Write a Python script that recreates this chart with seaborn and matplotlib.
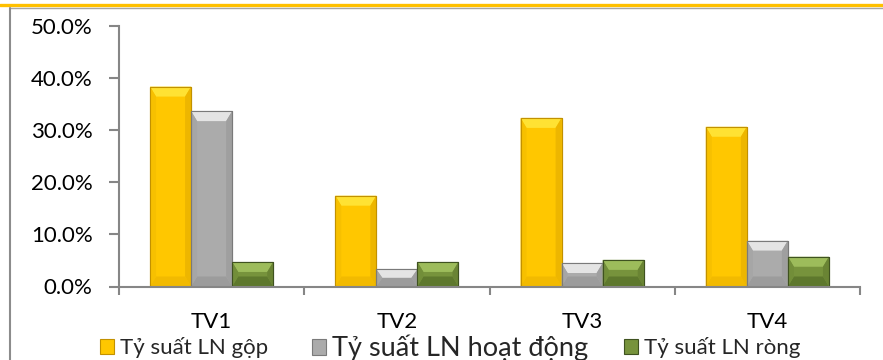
import numpy as np
import pandas as pd
import matplotlib
matplotlib.use("Agg")
import matplotlib.pyplot as plt
import seaborn as sns
from matplotlib.patches import Polygon, Patch, Rectangle
from matplotlib.lines import Line2D
from matplotlib.ticker import PercentFormatter, FixedLocator

# Data (percent)
categories = ["TV1", "TV2", "TV3", "TV4"]
series = ["Tỷ suất LN gộp", "Tỷ suất LN hoạt động", "Tỷ suất LN ròng"]
gross_margin = [38.3, 17.4, 32.3, 30.6]
operating_margin = [33.6, 3.3, 4.5, 8.8]
net_margin = [4.7, 4.7, 5.1, 5.7]
y_ticks = [0, 10, 20, 30, 40, 50]

sns.set_theme(style="white")
plt.rcParams["font.family"] = ["Lato", "DejaVu Sans"]

df = pd.DataFrame({
    "cat": categories * 3,
    "series": np.repeat(series, len(categories)),
    "value": gross_margin + operating_margin + net_margin,
})

# face, top bevel, left, right, bottom, edge
styles = {
    series[0]: dict(face="#FFC700", top="#FFE233", left="#F7C000", right="#EDB600", bottom="#F2BA00", edge="#C29100"),
    series[1]: dict(face="#ABABAB", top="#E4E4E4", left="#A6A6A6", right="#9F9F9F", bottom="#9C9C9C", edge="#7A7A7A"),
    series[2]: dict(face="#77933C", top="#9DBC5B", left="#728E39", right="#6A8434", bottom="#5E782D", edge="#3F5220"),
}

W, H = 883, 360
fig = plt.figure(figsize=(W / 100, H / 100), dpi=100)
ax_l, ax_r, ax_b, ax_t = 119, 860, 286.5, 25.5
ax = fig.add_axes([ax_l / W, (H - ax_b) / H, (ax_r - ax_l) / W, (ax_b - ax_t) / H])

sns.barplot(
    data=df, x="cat", y="value", hue="series", order=categories, hue_order=series,
    palette={k: v["face"] for k, v in styles.items()}, saturation=1,
    width=0.665, gap=0, legend=False, ax=ax, errorbar=None,
)
ax.set_xlim(-0.5, len(categories) - 0.5)
ax.set_ylim(0, 50)

# bevel shading on each bar
px_x = len(categories) / (ax_r - ax_l)
px_y = 50 / (ax_b - ax_t)
face_lookup = {matplotlib.colors.to_hex(v["face"]): v for v in styles.values()}
for p in list(ax.patches):
    st = face_lookup.get(matplotlib.colors.to_hex(p.get_facecolor()))
    if st is None:
        continue
    p.set_edgecolor(st["edge"])
    p.set_linewidth(0.8)
    x0, w, h = p.get_x(), p.get_width(), p.get_height()
    dpx = min(10, (h / px_y) / 2)
    spx = min(6, (w / px_x) / 2)
    dx, dy = spx * px_x, dpx * px_y
    polys = [
        ([(x0, h), (x0 + w, h), (x0 + w - dx, h - dy), (x0 + dx, h - dy)], st["top"]),
        ([(x0, 0), (x0 + w, 0), (x0 + w - dx, dy), (x0 + dx, dy)], st["bottom"]),
        ([(x0, 0), (x0, h), (x0 + dx, h - dy), (x0 + dx, dy)], st["left"]),
        ([(x0 + w, 0), (x0 + w, h), (x0 + w - dx, h - dy), (x0 + w - dx, dy)], st["right"]),
    ]
    for pts, col in polys:
        ax.add_patch(Polygon(pts, closed=True, facecolor=col, edgecolor="none", zorder=p.get_zorder() + 0.1))
    ax.add_patch(Rectangle((x0, 0), w, h, fill=False, edgecolor=st["edge"],
                           linewidth=0.8, zorder=p.get_zorder() + 0.2))

# axes styling
axis_col = "#868686"
for s in ["top", "right"]:
    ax.spines[s].set_visible(False)
for s in ["left", "bottom"]:
    ax.spines[s].set_color(axis_col)
    ax.spines[s].set_linewidth(1.5)
ax.set_xlabel("")
ax.set_ylabel("")
ax.yaxis.set_major_locator(FixedLocator(y_ticks))
ax.yaxis.set_major_formatter(PercentFormatter(xmax=100, decimals=1))
ax.tick_params(axis="y", left=True, direction="out", length=7, width=1.5, color=axis_col,
               pad=12, labelsize=16, labelcolor="black")
ax.set_xticks(range(len(categories)))
ax.set_xticklabels(categories)
ax.set_xticks(np.arange(-0.5, len(categories), 1.0), minor=True)
ax.tick_params(axis="x", which="major", length=0, pad=18, labelsize=16, labelcolor="black")
ax.tick_params(axis="x", which="minor", bottom=True, direction="out", length=6, width=1.5, color=axis_col)

# legend: one entry per series, each placed on its own
legend_x = [100, 312, 624]
legend_size = [16, 19.5, 16]
for name, lx, fs in zip(series, legend_x, legend_size):
    px = fs * 100 / 72
    fig.legend([Patch(facecolor=styles[name]["face"], edgecolor=styles[name]["edge"], linewidth=0.8)],
               [name], loc="center left", bbox_to_anchor=(lx / W, 12 / H),
               bbox_transform=fig.transFigure, frameon=False, fontsize=fs,
               handlelength=14 / px, handleheight=14 / px, handletextpad=6 / px,
               borderpad=0, borderaxespad=0)

# frame decorations: heading rule and chart border
fig.text(5 / W, 1 + 4.5 / H, "Tỷ suất LN (trung bình)", fontsize=14, fontweight="bold",
         ha="left", va="baseline", color="black")
fig.add_artist(Line2D([0, 1], [1 - 5 / H] * 2, color="#FFC000", lw=2.4, transform=fig.transFigure))
fig.add_artist(Line2D([10 / W, 1], [1 - 7.5 / H] * 2, color="#A6A6A6", lw=1.0, transform=fig.transFigure))
fig.add_artist(Line2D([10 / W] * 2, [0, 1 - 7.5 / H], color="#8C8C8C", lw=1.5, transform=fig.transFigure))

fig.savefig("out.png", dpi=100)
